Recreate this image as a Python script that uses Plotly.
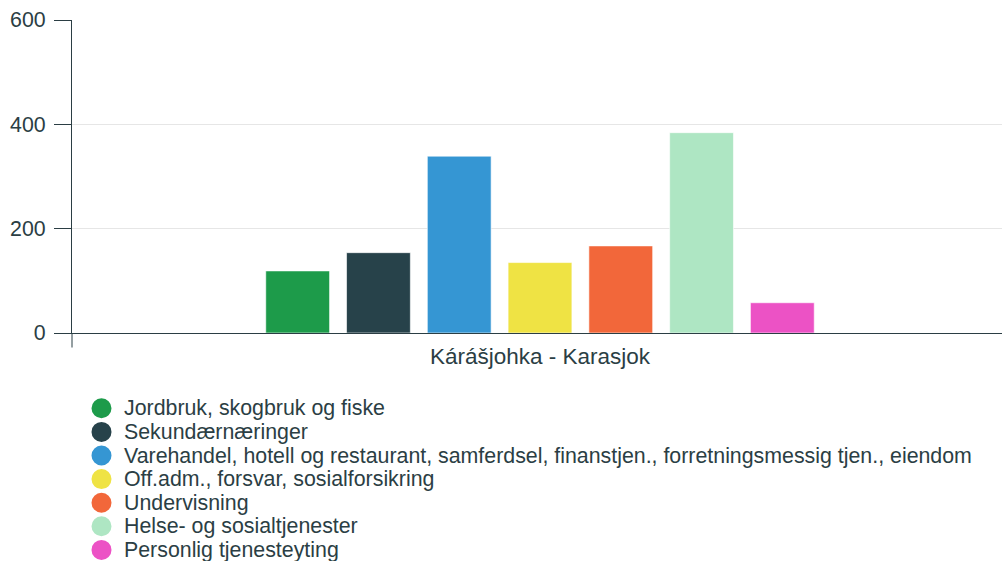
import plotly.graph_objects as go

category = ["Kárášjohka - Karasjok"]
series_names = [
    "Jordbruk, skogbruk og fiske",
    "Sekundærnæringer",
    "Varehandel, hotell og restaurant, samferdsel, finanstjen., forretningsmessig tjen., eiendom",
    "Off.adm., forsvar, sosialforsikring",
    "Undervisning",
    "Helse- og sosialtjenester",
    "Personlig tjenesteyting",
]
series_values = [119, 154, 339, 135, 167, 384, 58]
colors = ["#1d9b4a", "#27424a", "#3596d3", "#efe344", "#f2673a", "#aee6c3", "#ec52c5"]
y_ticks = [0, 200, 400, 600]

TXT = "#2b3e44"
FONT = "Liberation Sans, Arial, sans-serif"
FS = 21.35

W, H = 1002, 561
ML, MR, MT, MB = 72, 0, 20, 228
PW, PH = W - ML - MR, H - MT - MB


def px_x(px):
    return (px - ML) / PW


def px_y(py):
    return (H - MB - py) / PH


fig = go.Figure()
for name, val, col in zip(series_names, series_values, colors):
    fig.add_trace(go.Bar(
        x=category, y=[val], name=name, showlegend=False,
        marker=dict(color=col, line=dict(color="rgba(255,255,255,0.6)", width=1)),
    ))

# Legend drawn as circle symbols + text (compact line spacing like the reference)
shapes = [dict(type="line", xref="paper", yref="paper", x0=0, x1=0,
               y0=px_y(H - MB + 14.5), y1=0, line=dict(color=TXT, width=1))]
annotations = []
legend_top, legend_step = 408.3, 23.6
for i, (name, col) in enumerate(zip(series_names, colors)):
    cy = legend_top + i * legend_step
    shapes.append(dict(
        type="circle", xref="paper", yref="paper",
        xsizemode="pixel", ysizemode="pixel",
        xanchor=px_x(101.5), yanchor=px_y(cy),
        x0=-10, x1=10, y0=-10, y1=10,
        fillcolor=col, line=dict(width=0),
    ))
    annotations.append(dict(
        text=name, xref="paper", yref="paper", x=px_x(122), y=px_y(cy),
        xanchor="left", yanchor="middle", showarrow=False,
        font=dict(family=FONT, size=FS, color=TXT),
    ))

shift = 3 / PW
fig.update_layout(
    width=W, height=H, autosize=False,
    margin=dict(l=ML, r=MR, t=MT, b=MB),
    paper_bgcolor="white", plot_bgcolor="white",
    font=dict(family=FONT, size=FS, color=TXT),
    barmode="group", bargap=0.392, bargroupgap=0.21,
    showlegend=False,
    xaxis=dict(
        automargin=False, range=[-0.5 - shift, 0.5 - shift],
        showline=True, linecolor=TXT, linewidth=1, showgrid=False, zeroline=False,
        ticks="", ticklabelstandoff=3,
        tickfont=dict(family=FONT, size=22.5, color=TXT),
    ),
    yaxis=dict(
        automargin=False,
        range=[0, 600], tickvals=y_ticks, showgrid=True, gridcolor="#e6e6e6", gridwidth=1,
        zeroline=False, showline=True, linecolor=TXT, linewidth=1,
        ticks="outside", ticklen=17, tickcolor=TXT, tickwidth=1,
        ticklabelstandoff=4,
        tickfont=dict(family=FONT, size=FS, color=TXT),
    ),
    shapes=shapes,
    annotations=annotations,
)

post = (
    "document.documentElement.style.margin='0';"
    "document.body.style.margin='0';document.body.style.padding='0';"
    "document.body.style.overflow='hidden';"
    "var gd=document.getElementById('{plot_id}');"
    "Plotly.relayout(gd,{width:%d,height:%d});" % (W, H)
)
fig.write_html("out.html", config={"responsive": False, "displayModeBar": False},
               post_script=post)
